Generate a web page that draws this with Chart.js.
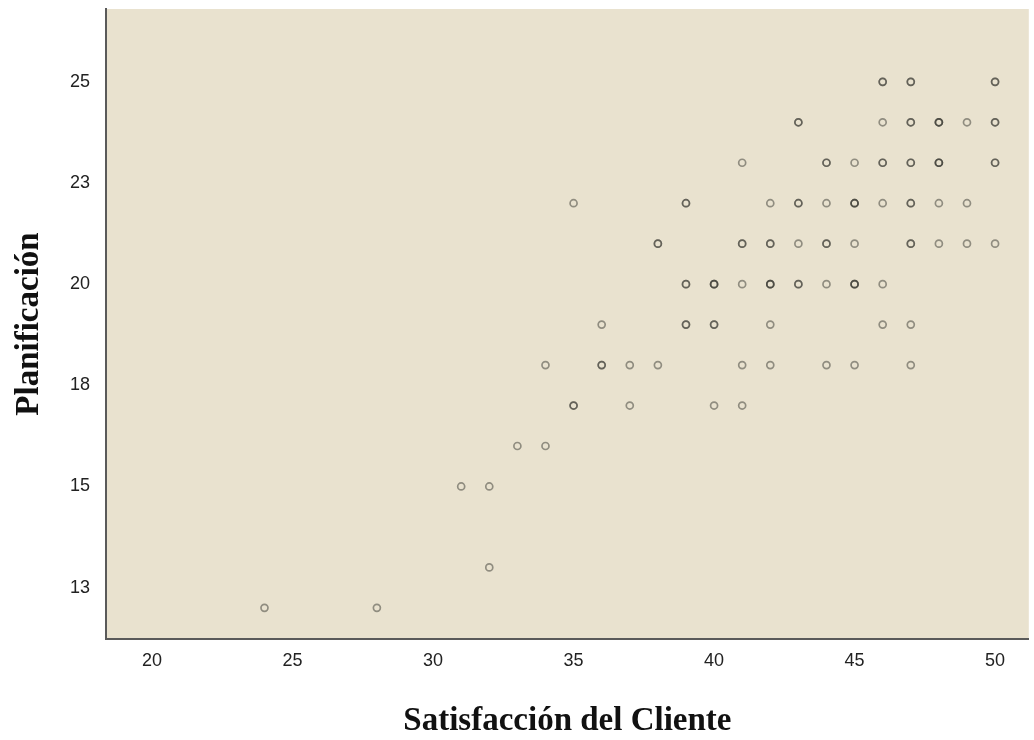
<!DOCTYPE html>
<html>
<head>
<meta charset="utf-8">
<script src="https://cdn.jsdelivr.net/npm/chart.js@4"></script>
<style>
  html, body { margin: 0; padding: 0; background: #fff; }
</style>
</head>
<body>
<canvas id="dispersion" width="1034" height="740"></canvas>
<script>
// Planificación levels (y) and the Satisfacción del Cliente values seen at each level (x).
// A value listed twice or three times is a darker (overlapping) marker.
const nivelesPlanificacion = [25, 24, 23, 22, 21, 20, 19, 18, 17, 16, 15, 13, 12];
const satisfaccionPorNivel = [
    [46, 46, 47, 47, 50, 50],
    [43, 43, 46, 47, 47, 48, 48, 48, 49, 50, 50],
    [41, 44, 44, 45, 46, 46, 47, 47, 48, 48, 48, 50, 50],
    [35, 39, 39, 42, 43, 43, 44, 45, 45, 45, 46, 47, 47, 48, 49],
    [38, 38, 41, 41, 42, 42, 43, 44, 44, 45, 47, 47, 48, 49, 50],
    [39, 39, 40, 40, 40, 41, 42, 42, 42, 43, 43, 44, 45, 45, 45, 46],
    [36, 39, 39, 40, 40, 42, 46, 47],
    [34, 36, 36, 37, 38, 41, 42, 44, 45, 47],
    [35, 35, 37, 40, 41],
    [33, 34],
    [31, 32],
    [32],
    [24, 28]
];

const xTicks = [20, 25, 30, 35, 40, 45, 50];
const yTicks = [12.5, 15, 17.5, 20, 22.5, 25];
const yTickLabels = ["13", "15", "18", "20", "23", "25"];

let puntos = [];
nivelesPlanificacion.forEach((y, i) => {
    satisfaccionPorNivel[i].forEach(x => puntos.push({x: x, y: y}));
});

let fondo = {
    id: "fondo",
    beforeDraw(chart) {
        let {ctx, chartArea: a} = chart;
        ctx.save();
        ctx.fillStyle = "#ffffff";
        ctx.fillRect(0, 0, chart.width, chart.height);
        ctx.fillStyle = "#e9e2cf";
        ctx.fillRect(a.left, a.top, a.right - a.left, a.bottom - a.top);
        ctx.restore();
    }
};

let tickFont = {family: "'Liberation Sans', Arial, sans-serif", size: 18};
let titleFont = {family: "'Liberation Serif', 'Times New Roman', serif", size: 33, weight: "bold", lineHeight: 1};

new Chart(document.getElementById("dispersion"), {
    type: "scatter",
    data: {
        datasets: [{
            label: "Planificación",
            data: puntos,
            pointRadius: 3.5,
            pointHoverRadius: 3.5,
            pointBorderWidth: 1.7,
            pointBorderColor: "rgba(55, 55, 50, 0.5)",
            pointBackgroundColor: "rgba(0, 0, 0, 0)"
        }]
    },
    options: {
        responsive: false,
        animation: false,
        events: [],
        layout: {padding: {top: 9, right: 5, left: 0, bottom: 0}},
        plugins: {
            legend: {display: false},
            tooltip: {enabled: false}
        },
        scales: {
            x: {
                type: "linear",
                min: 18.36,
                max: 51.2,
                afterFit: s => { s.height = 101; s.paddingLeft = 0; s.paddingRight = 0; },
                afterBuildTicks: s => { s.ticks = xTicks.map(v => ({value: v})); },
                grid: {display: false, drawTicks: false},
                border: {display: true, color: "#5a5a5a", width: 2},
                ticks: {
                    padding: 11,
                    color: "#222",
                    font: tickFont,
                    maxRotation: 0,
                    autoSkip: false
                },
                title: {
                    display: true,
                    text: "Satisfacción del Cliente",
                    color: "#111",
                    font: titleFont,
                    padding: {top: 0, bottom: 2}
                }
            },
            y: {
                type: "linear",
                min: 11.23,
                max: 26.8,
                afterFit: s => { s.width = 106; s.paddingTop = 0; s.paddingBottom = 0; },
                afterBuildTicks: s => { s.ticks = yTicks.map(v => ({value: v})); },
                grid: {display: false, drawTicks: false},
                border: {display: true, color: "#5a5a5a", width: 2},
                ticks: {
                    padding: 16,
                    color: "#222",
                    font: tickFont,
                    autoSkip: false,
                    callback: (v) => yTickLabels[yTicks.indexOf(v)]
                },
                title: {
                    display: true,
                    text: "Planificación",
                    color: "#111",
                    font: titleFont,
                    padding: {top: 13, bottom: 0}
                }
            }
        }
    },
    plugins: [fondo]
});
</script>
</body>
</html>
